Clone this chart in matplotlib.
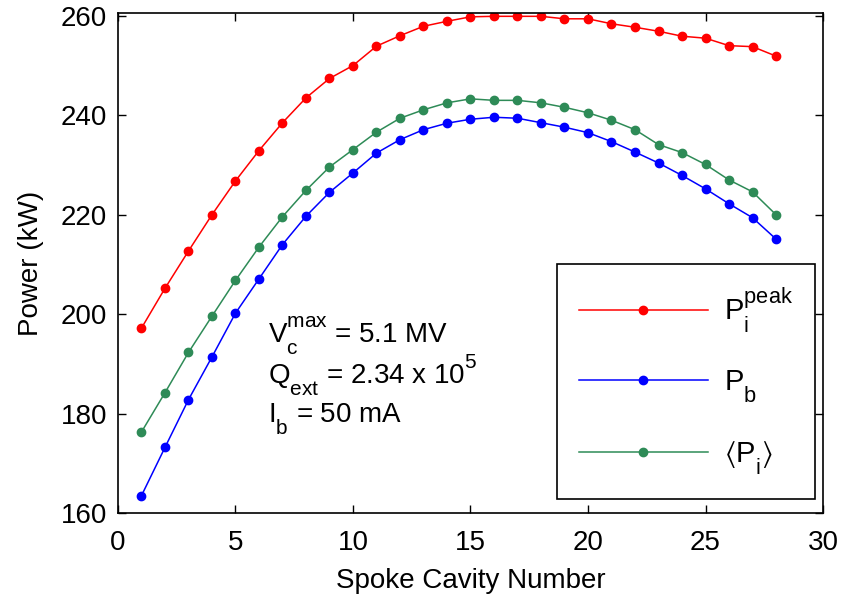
import matplotlib
matplotlib.use("Agg")
import matplotlib.pyplot as plt
from matplotlib import _mathtext

plt.rcParams['font.family'] = ['Liberation Sans', 'DejaVu Sans']
plt.rcParams['mathtext.fontset'] = 'custom'
plt.rcParams['mathtext.rm'] = 'Liberation Sans'
plt.rcParams['mathtext.it'] = 'Liberation Sans'

# push sub/superscripts further from the baseline, MATLAB-style
_mathtext.FontConstantsBase.sub1 = 0.8
_mathtext.FontConstantsBase.sub2 = 0.8
_mathtext.FontConstantsBase.sup1 = 1.0
_mathtext.SHRINK_FACTOR = 0.75

# spoke cavity index along the linac
cavity = list(range(1, 29))

# peak forward power per cavity (kW)
p_peak = [197.2, 205.2, 212.7, 220.0, 226.8, 232.9, 238.5, 243.5, 247.4, 250.0,
          253.9, 256.0, 257.9, 258.9, 259.8, 259.9, 259.9, 259.9, 259.4, 259.4,
          258.4, 257.7, 256.9, 255.9, 255.5, 254.0, 253.8, 251.9]

# beam power per cavity (kW)
p_beam = [163.5, 173.2, 182.8, 191.4, 200.2, 207.1, 214.0, 219.7, 224.5, 228.4,
          232.4, 235.1, 237.1, 238.4, 239.2, 239.6, 239.4, 238.5, 237.6, 236.5,
          234.7, 232.6, 230.4, 227.9, 225.2, 222.2, 219.4, 215.1]

# average forward power per cavity (kW)
p_avg = [176.3, 184.2, 192.3, 199.6, 206.8, 213.5, 219.6, 224.9, 229.6, 233.1,
         236.6, 239.4, 241.1, 242.5, 243.3, 243.0, 243.0, 242.5, 241.6, 240.5,
         239.0, 237.1, 234.1, 232.5, 230.1, 227.0, 224.6, 220.0]

fs = 20

fig = plt.figure(figsize=(8.41, 5.98), dpi=100)
ax = fig.add_axes([0.1403, 0.1421, 0.8383, 0.8356])

style = dict(marker='o', markersize=6, linewidth=1.1)
ax.plot(cavity, p_peak, color='#ff0000', label=r'$\mathregular{P_i^{peak}}$', **style)
ax.plot(cavity, p_beam, color='#0000ff', label=r'$\mathregular{P_b}$', **style)
ax.plot(cavity, p_avg, color='#2e8b57', label=r'$\mathregular{\langle P_i\rangle}$', **style)

ax.set_xlim(0, 30)
ax.set_ylim(160, 260.5)
ax.set_xticks([0, 5, 10, 15, 20, 25, 30])
ax.set_yticks([160, 180, 200, 220, 240, 260])
ax.tick_params(direction='in', length=6, width=1, top=True, right=True, labelsize=fs)
ax.tick_params(axis='x', pad=12)
ax.tick_params(axis='y', pad=8)
for sp in ax.spines.values():
    sp.set_linewidth(1.2)

ax.set_xlabel('Spoke Cavity Number', fontsize=fs, labelpad=9)
ax.set_ylabel('Power (kW)', fontsize=fs, labelpad=12)

ax.text(6.38, 194.2, r'$\mathregular{V_c^{max}}$ = 5.1 MV', fontsize=fs)
ax.text(6.38, 186.0, r'$\mathregular{Q_{ext}}$ = 2.34 x 10$\mathregular{^5}$', fontsize=fs)
ax.text(6.38, 178.4, r'$\mathregular{I_b}$ = 50 mA', fontsize=fs)

leg = ax.legend(loc='lower right', bbox_to_anchor=(0.988, 0.029), fontsize=fs + 1,
                handlelength=4.4, labelspacing=1.15, borderpad=0.75,
                handletextpad=0.55, borderaxespad=0, fancybox=False,
                framealpha=1, edgecolor='black')
leg.get_frame().set_linewidth(1.2)

fig.savefig('out.png', dpi=100)
